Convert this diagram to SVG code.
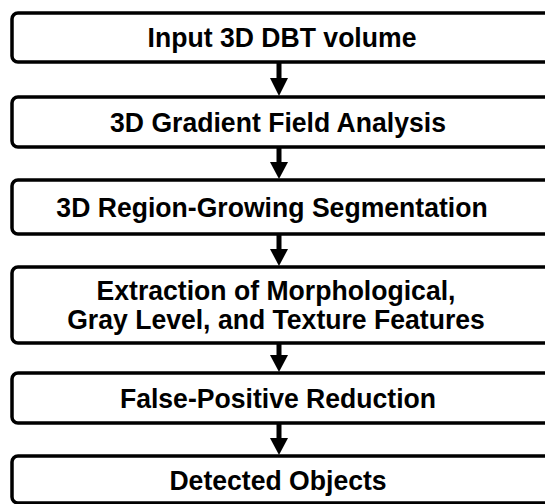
<svg xmlns="http://www.w3.org/2000/svg" width="545" height="504" viewBox="0 0 545 504">
  <style>
    .box { fill: #ffffff; stroke: #000000; stroke-width: 3.5; }
    .label { font-family: "Liberation Sans", Arial, sans-serif; font-weight: bold; font-size: 28px; fill: #000000; text-anchor: middle; }
    .shaft { stroke: #000000; stroke-width: 5; fill: none; }
    .head { fill: #000000; }
  </style>
  <rect width="545" height="504" fill="#ffffff"/>

  <g id="connectors">
    <line class="shaft" x1="279" y1="62" x2="279" y2="80"/>
    <polygon class="head" points="270,78 288,78 279,96"/>
    <line class="shaft" x1="279" y1="147" x2="279" y2="164"/>
    <polygon class="head" points="270,162 288,162 279,179"/>
    <line class="shaft" x1="279" y1="234" x2="279" y2="251"/>
    <polygon class="head" points="270,249 288,249 279,266"/>
    <line class="shaft" x1="279" y1="343" x2="279" y2="357"/>
    <polygon class="head" points="270,355 288,355 279,372"/>
    <line class="shaft" x1="279" y1="423" x2="279" y2="440"/>
    <polygon class="head" points="270,438 288,438 279,455"/>
  </g>

  <!-- labels are set slightly condensed: each is scaled 0.95 horizontally about its centre -->
  <g id="input-volume">
    <rect class="box" x="12" y="13" width="560" height="49" rx="6"/>
    <text class="label" transform="translate(282,47) scale(0.95,1)">Input 3D DBT volume</text>
  </g>

  <g id="gradient-field">
    <rect class="box" x="12" y="97" width="560" height="50" rx="6"/>
    <text class="label" transform="translate(278,132) scale(0.95,1)">3D Gradient Field Analysis</text>
  </g>

  <g id="region-growing">
    <rect class="box" x="12" y="180" width="560" height="54" rx="6"/>
    <text class="label" transform="translate(272,217) scale(0.95,1)">3D Region-Growing Segmentation</text>
  </g>

  <g id="feature-extraction">
    <rect class="box" x="12" y="267" width="560" height="76" rx="6"/>
    <text class="label" transform="translate(276,300) scale(0.95,1)">Extraction of Morphological,</text>
    <text class="label" transform="translate(276,329) scale(0.95,1)">Gray Level, and Texture Features</text>
  </g>

  <g id="fp-reduction">
    <rect class="box" x="12" y="373" width="560" height="50" rx="6"/>
    <text class="label" transform="translate(278,408) scale(0.95,1)">False-Positive Reduction</text>
  </g>

  <g id="detected-objects">
    <rect class="box" x="12" y="456" width="560" height="47" rx="6"/>
    <text class="label" transform="translate(278,490) scale(0.95,1)">Detected Objects</text>
  </g>
</svg>
